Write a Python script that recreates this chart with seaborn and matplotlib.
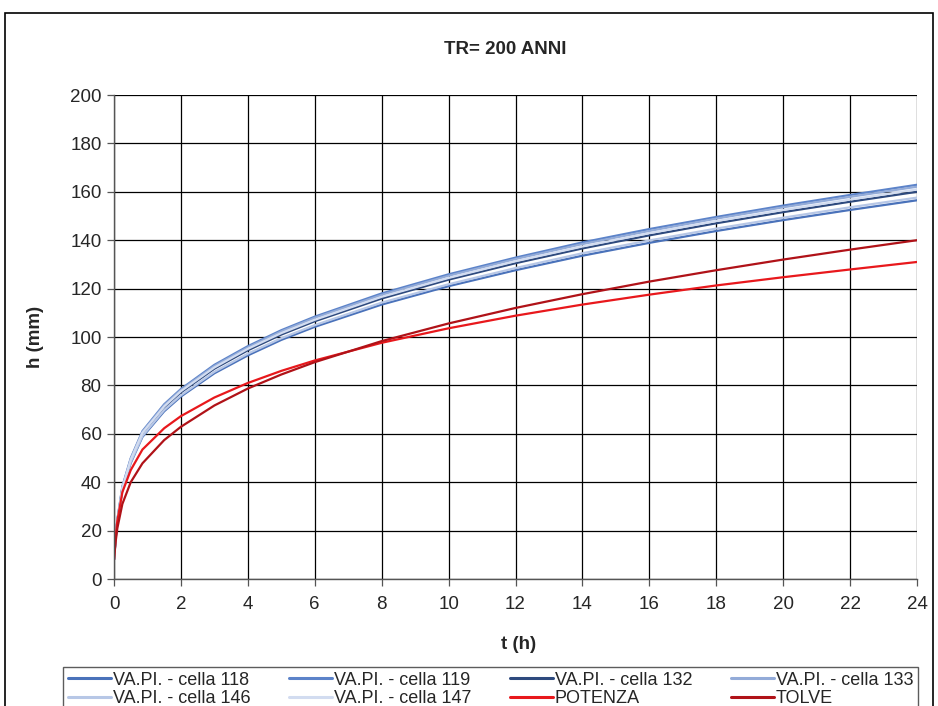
import matplotlib
matplotlib.use("Agg")
import matplotlib.pyplot as plt
import seaborn as sns
import pandas as pd
from matplotlib.patches import Rectangle

# Durations (hours)
t_hours = [0, 0.05, 0.1, 0.25, 0.5, 0.85, 1.5, 2, 3, 4, 5, 6, 8, 10, 12, 14, 16, 18, 20, 22, 24]

# Rainfall depth h (mm), return period 200 years
h_cella_118 = [8, 16.6, 23.5, 36.7, 47.9, 58.7, 69.3, 75.4, 85.0, 92.4, 98.8, 104.2, 113.4, 121.0, 127.6, 133.6, 138.9, 143.8, 148.3, 152.5, 156.5]
h_cella_119 = [8, 17.3, 24.5, 38.2, 49.9, 61.1, 72.2, 78.5, 88.5, 96.2, 102.8, 108.4, 118.0, 125.9, 132.8, 139.1, 144.6, 149.6, 154.3, 158.7, 162.9]
h_cella_132 = [8, 17.0, 24.0, 37.5, 49.0, 60.0, 70.9, 77.1, 86.9, 94.5, 101.0, 106.5, 115.9, 123.7, 130.5, 136.6, 142.0, 147.0, 151.6, 155.9, 160.0]
h_cella_133 = [8, 17.2, 24.3, 38.0, 49.6, 60.8, 71.8, 78.1, 88.0, 95.7, 102.3, 107.9, 117.4, 125.3, 132.2, 138.4, 143.8, 148.9, 153.6, 157.9, 162.1]
h_cella_146 = [8, 16.7, 23.6, 36.9, 48.3, 59.1, 69.8, 75.9, 85.6, 93.1, 99.5, 104.9, 114.2, 121.8, 128.5, 134.6, 139.9, 144.8, 149.3, 153.6, 157.6]
h_cella_147 = [8, 17.1, 24.1, 37.7, 49.3, 60.4, 71.3, 77.6, 87.4, 95.1, 101.6, 107.1, 116.6, 124.4, 131.3, 137.4, 142.9, 147.9, 152.5, 156.8, 161.0]
h_potenza = [8, 18.0, 24.0, 35.9, 45.0, 53.5, 62.3, 67.3, 75.0, 81.0, 86.0, 90.3, 97.6, 103.6, 108.8, 113.4, 117.5, 121.3, 124.7, 127.9, 131.0]
h_tolve = [8, 15.5, 21.0, 31.0, 40.0, 47.8, 57.4, 62.9, 71.7, 78.7, 84.5, 89.6, 98.3, 105.6, 112.0, 117.7, 122.9, 127.6, 132.0, 136.1, 140.0]

series_names = ["VA.PI. - cella 118", "VA.PI. - cella 119", "VA.PI. - cella 132",
                "VA.PI. - cella 133", "VA.PI. - cella 146", "VA.PI. - cella 147",
                "POTENZA", "TOLVE"]
series_values = [h_cella_118, h_cella_119, h_cella_132, h_cella_133,
                 h_cella_146, h_cella_147, h_potenza, h_tolve]
series_colors = ["#4A72BA", "#5C83C9", "#2E4A7E", "#93ABD8",
                 "#B7C7E6", "#D2DCF0", "#E8181C", "#B01218"]

x_ticks = list(range(0, 25, 2))
y_ticks = list(range(0, 201, 20))

sns.set_style("white")
plt.rcParams["font.family"] = ["Liberation Sans", "DejaVu Sans"]

fig = plt.figure(figsize=(9.38, 7.06), dpi=100)
ax = fig.add_axes([114 / 938, 1 - 579 / 706, (917 - 114) / 938, (579 - 95) / 706])

df = pd.DataFrame({
    "t": t_hours * len(series_names),
    "h": [v for vals in series_values for v in vals],
    "serie": [n for n in series_names for _ in t_hours],
})
sns.lineplot(data=df, x="t", y="h", hue="serie", hue_order=series_names,
             palette=dict(zip(series_names, series_colors)),
             estimator=None, sort=False, linewidth=1.6, ax=ax, legend=True)

ax.set_xlim(0, 24)
ax.set_ylim(0, 200)
ax.set_xticks(x_ticks)
ax.set_yticks(y_ticks)
ax.grid(True, color="black", linewidth=0.9)
ax.set_axisbelow(True)
for side in ["left", "bottom"]:
    ax.spines[side].set_color("#555555")
    ax.spines[side].set_linewidth(1.0)
for side in ["top", "right"]:
    ax.spines[side].set_visible(False)
ax.tick_params(axis="both", direction="out", length=5, width=0.9, color="#555555",
               labelsize=13.5, left=True, bottom=True)
ax.tick_params(axis="x", pad=7)
ax.tick_params(axis="y", pad=4)

ax.set_xlabel("t (h)", fontsize=13.5, fontweight="bold")
ax.set_ylabel("h (mm)", fontsize=13.5, fontweight="bold")
ax.xaxis.set_label_coords((519 - 114) / 803, (579 - 636) / 484)
ax.yaxis.set_label_coords((44 - 114) / 803, (579 - 337) / 484)
fig.text(505 / 938, 1 - 49 / 706, "TR= 200 ANNI", ha="center", va="center",
         fontsize=13.5, fontweight="bold")

handles, labels = ax.get_legend_handles_labels()
ax.get_legend().remove()
for hnd in handles:
    hnd.set_linewidth(2.2)
# legend fills column by column: reorder so entries read across rows
order = [0, 4, 1, 5, 2, 6, 3, 7]
leg = fig.legend([handles[i] for i in order], [labels[i] for i in order],
                 ncol=4, loc="upper left",
                 bbox_to_anchor=(63 / 938, 1 - 667 / 706 - 0.2, (918 - 63) / 938, 0.2),
                 mode="expand", borderaxespad=0, frameon=True, fancybox=False,
                 edgecolor="#333333", fontsize=13, handlelength=2.4,
                 handletextpad=0.1, labelspacing=0.1, borderpad=0.25,
                 columnspacing=1.0)
leg.get_frame().set_linewidth(1.0)

# outer chart border
fig.patches.append(Rectangle((5 / 938, -0.05), 0.995 - 5 / 938, 1.05 - 13 / 706,
                             transform=fig.transFigure, fill=False,
                             edgecolor="black", linewidth=1.2))

fig.savefig("out.png", dpi=100)
